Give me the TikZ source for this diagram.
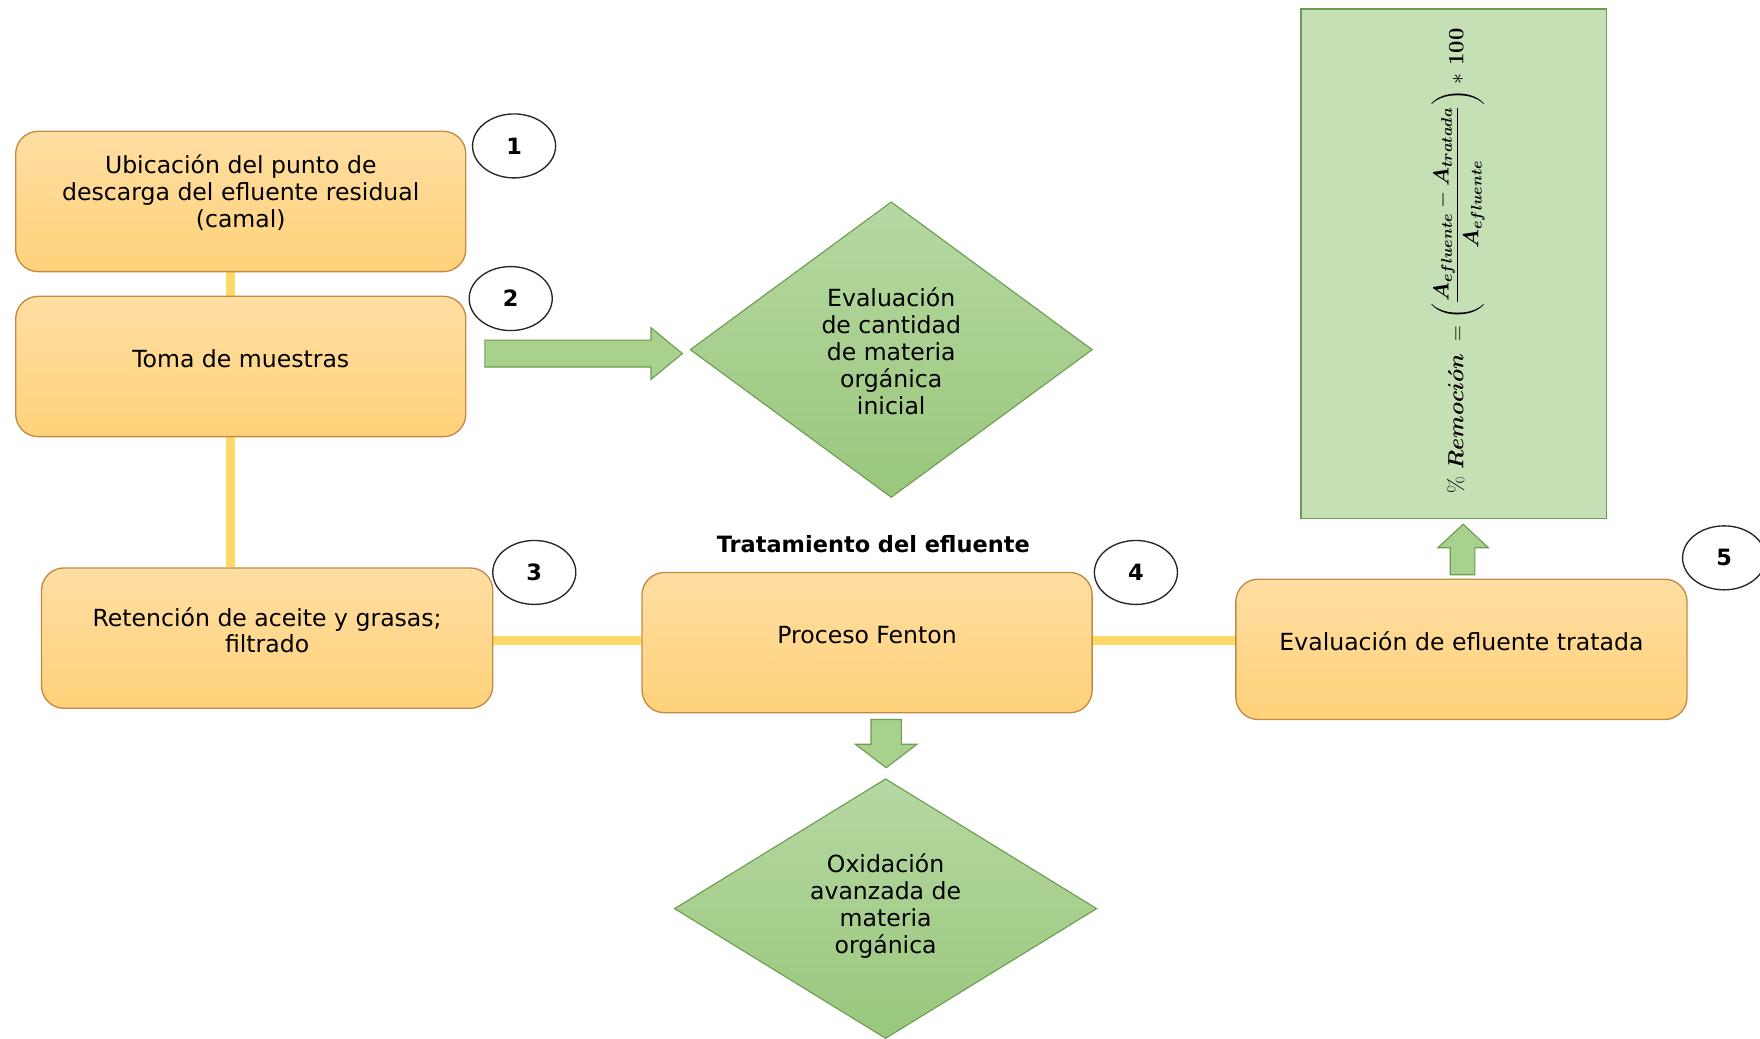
\RequirePackage{fix-cm}
\documentclass[tikz,border=0pt]{standalone}
\usepackage[no-math]{fontspec}
\setmainfont{DejaVu Sans}
\usepackage{amsmath,bm}
\usetikzlibrary{shapes.geometric,backgrounds}
\definecolor{boxtop}{HTML}{FFDEA2}
\definecolor{boxbot}{HTML}{FFD27A}
\definecolor{boxline}{HTML}{C48A45}
\definecolor{diatop}{HTML}{B6D8A2}
\definecolor{diabot}{HTML}{99C77C}
\definecolor{grline}{HTML}{6E9B52}
\definecolor{frmfill}{HTML}{C5E0B4}
\definecolor{arrfill}{HTML}{A9D18E}
\definecolor{conn}{HTML}{FFD966}
\tikzset{
  procbox/.style={draw=boxline, line width=1.2pt, rounded corners=20pt,
    top color=boxtop, bottom color=boxbot, minimum width=401pt,
    minimum height=125pt, inner sep=0pt},
  boxtext/.style={font=\fontsize{21}{24}\selectfont, align=center, text=black},
  numcirc/.style={ellipse, draw=black!85, line width=1.2pt, fill=white,
    minimum width=74pt, minimum height=57pt, inner sep=0pt,
    font=\fontsize{20}{24}\selectfont\bfseries},
  diabox/.style={diamond, draw=grline, line width=1pt, top color=diatop,
    bottom color=diabot, inner sep=0pt, outer sep=0pt},
  connline/.style={draw=conn, line width=8pt},
  blockarrow/.style={draw=grline, line width=1pt, fill=arrfill, line join=miter},
}
\begin{document}
\begin{tikzpicture}[x=1pt,y=-1pt]
\useasboundingbox (0,0) rectangle (1568,925);
% process boxes
\node[procbox, label={[boxtext,yshift=8pt]center:Ubicación del punto de\\descarga del efluente residual\\(camal)}] (b1) at (214.5,179.5) {};
\node[procbox, label={[boxtext,yshift=7pt]center:Toma de muestras}] (b2) at (214.5,326.5) {};
\node[procbox, minimum width=402pt, label={[boxtext,yshift=7pt]center:Retención de aceite y grasas;\\filtrado}] (b3) at (238,568.5) {};
\node[procbox, label={[boxtext,yshift=7pt]center:Proceso Fenton}] (b4) at (772.5,572.5) {};
\node[procbox, minimum width=402pt, label={[boxtext,yshift=7pt]center:Evaluación de efluente tratada}] (b5) at (1302,578.5) {};
% numbered ellipses
\node[numcirc] (c1) at (458,130) {1};
\node[numcirc] (c2) at (455,266) {2};
\node[numcirc] (c3) at (476,510) {3};
\node[numcirc] (c4) at (1012,510) {4};
\node[numcirc] (c5) at (1536,497) {5};
% title
\node[font=\fontsize{20}{24}\selectfont\bfseries] (tt) at (778,485) {Tratamiento del efluente};
% diamonds
\node[diabox, minimum width=358pt, minimum height=263pt] (d1) at (794,311.5) {};
\node[boxtext] (d1t) at (794,313) {Evaluación\\de cantidad\\de materia\\orgánica\\inicial};
\node[diabox, minimum width=376pt, minimum height=231pt] (d2) at (789,809.5) {};
\node[boxtext] (d2t) at (789,807) {Oxidación\\avanzada de\\materia\\orgánica};
% formula box
\node[draw=grline, line width=1.2pt, fill=frmfill, minimum width=272pt, minimum height=454pt, inner sep=0pt] (f) at (1295,235) {};
\node[rotate=90, scale=1.13, font=\fontsize{17.28}{21}\selectfont] (ft) at (1299,232.5)
  {$\%\ \bm{Remoci\acute{o}n}\ =\left(\dfrac{\bm{A_{efluente}}-\bm{A_{tratada}}}{\bm{A_{efluente}}}\right)*\,\mbox{\boldmath$\mathbf{100}$}$};
% connectors behind
\coordinate (vx) at (205,0);
\coordinate (hy) at (0,571);
\begin{pgfonlayer}{background}
\draw[connline] (b1.south -| vx) -- (b2.north -| vx);
\draw[connline] (b2.south -| vx) -- (b3.north -| vx);
\draw[connline] (b3.east |- hy) -- (b4.west |- hy);
\draw[connline] (b4.east |- hy) -- (b5.west |- hy);
\end{pgfonlayer}
% block arrows
\draw[blockarrow] (432,303) -- (580,303) -- (580,292) -- (608,315) -- (580,338) -- (580,327) -- (432,327) -- cycle;
\draw[blockarrow] (1292,512) -- (1292,488) -- (1281,488) -- (1303.5,467) -- (1326,488) -- (1314,488) -- (1314,512) -- cycle;
\draw[blockarrow] (776,641) -- (803,641) -- (803,663) -- (817,663) -- (789.5,684) -- (762,663) -- (776,663) -- cycle;
\end{tikzpicture}
\end{document}
